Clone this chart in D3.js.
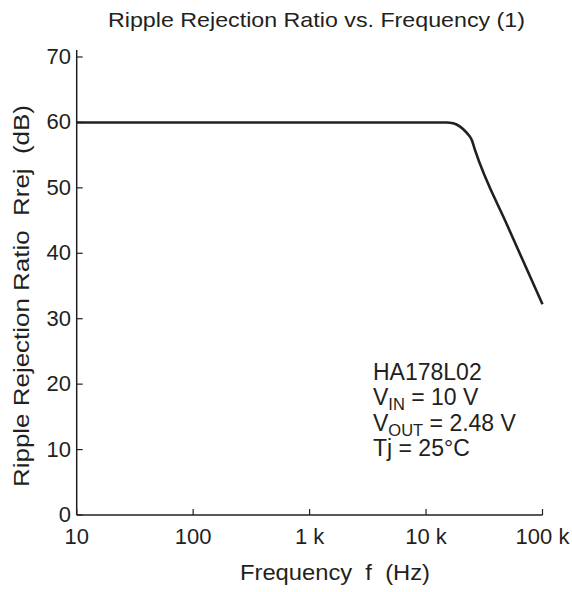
<!DOCTYPE html>
<html><head><meta charset="utf-8">
<script src="https://cdn.jsdelivr.net/npm/d3@7"></script>
<style>
body{margin:0;background:#fff;}
text{font-family:"Liberation Sans",Arial,sans-serif;fill:#231f20;white-space:pre;}
</style></head>
<body>
<svg id="chart" width="572" height="592"></svg>
<script>
// data
const freqHz = [10, 15000, 17100, 19600, 22300, 24700, 26300, 50000, 100000];
const rrejDb = [60, 60, 59.87, 59.35, 58.43, 57.31, 55.8, 44.2, 32.2];
const xTickValues = [10, 100, 1000, 10000, 100000];
const xTickLabels = ["10", "100", "1 k", "10 k", "100 k"];
const yTickValues = [0, 10, 20, 30, 40, 50, 60, 70];
const annotation = ["HA178L02", "V|IN| = 10 V", "V|OUT| = 2.48 V", "Tj = 25°C"];

const svg = d3.select("#chart");
const ink = "#231f20";
const x = d3.scaleLog().domain([10, 100000]).range([76.7, 542.5]);
const y = d3.scaleLinear().domain([0, 70]).range([515, 57]);

// axes lines
svg.append("line").attr("x1", x(10)).attr("x2", x(100000)).attr("y1", y(0)).attr("y2", y(0))
  .attr("stroke", ink).attr("stroke-width", 1.5);
svg.append("line").attr("x1", x(10)).attr("x2", x(10)).attr("y1", y(0)).attr("y2", 50)
  .attr("stroke", ink).attr("stroke-width", 1.5);

// x ticks (inward)
xTickValues.forEach((v, i) => {
  svg.append("line").attr("x1", x(v)).attr("x2", x(v)).attr("y1", y(0)).attr("y2", y(0) - 6)
    .attr("stroke", ink).attr("stroke-width", 1.2);
  svg.append("text").attr("x", x(v)).attr("y", 544).attr("text-anchor", "middle")
    .attr("font-size", 22).text(xTickLabels[i]);
});
// y ticks (inward)
yTickValues.forEach(v => {
  svg.append("line").attr("x1", x(10)).attr("x2", x(10) + 6).attr("y1", y(v)).attr("y2", y(v))
    .attr("stroke", ink).attr("stroke-width", 1.2);
  svg.append("text").attr("x", 71).attr("y", y(v) + 7).attr("text-anchor", "end")
    .attr("font-size", 22).text(v);
});

// titles
svg.append("text").attr("x", 316.5).attr("y", 27).attr("text-anchor", "middle")
  .attr("font-size", 21).attr("textLength", 417).attr("lengthAdjust", "spacingAndGlyphs")
  .text("Ripple Rejection Ratio vs. Frequency (1)");
svg.append("text").attr("x", 335).attr("y", 580).attr("text-anchor", "middle")
  .attr("font-size", 22.5).attr("textLength", 190).attr("lengthAdjust", "spacingAndGlyphs")
  .text("Frequency  f  (Hz)");
svg.append("text").attr("transform", "translate(29,105) rotate(-90)").attr("text-anchor", "end")
  .attr("font-size", 22).attr("textLength", 382).attr("lengthAdjust", "spacingAndGlyphs")
  .text("Ripple Rejection Ratio  Rrej  (dB)");

// curve
const line = d3.line().x((d, i) => x(freqHz[i])).y((d, i) => y(rrejDb[i])).curve(d3.curveMonotoneX);
svg.append("path").datum(freqHz).attr("d", line).attr("fill", "none")
  .attr("stroke", ink).attr("stroke-width", 2.6).attr("stroke-linejoin", "round");

// annotation
annotation.forEach((s, i) => {
  const t = svg.append("text").attr("x", 373).attr("y", 380 + i * 25.3).attr("font-size", 23);
  const parts = s.split("|");
  parts.forEach((p, j) => {
    const ts = t.append("tspan").text(p);
    if (j === 1) ts.attr("dy", 5).attr("font-size", 16.5);
    if (j === 2) ts.attr("dy", -5);
  });
});
</script>
</body></html>
